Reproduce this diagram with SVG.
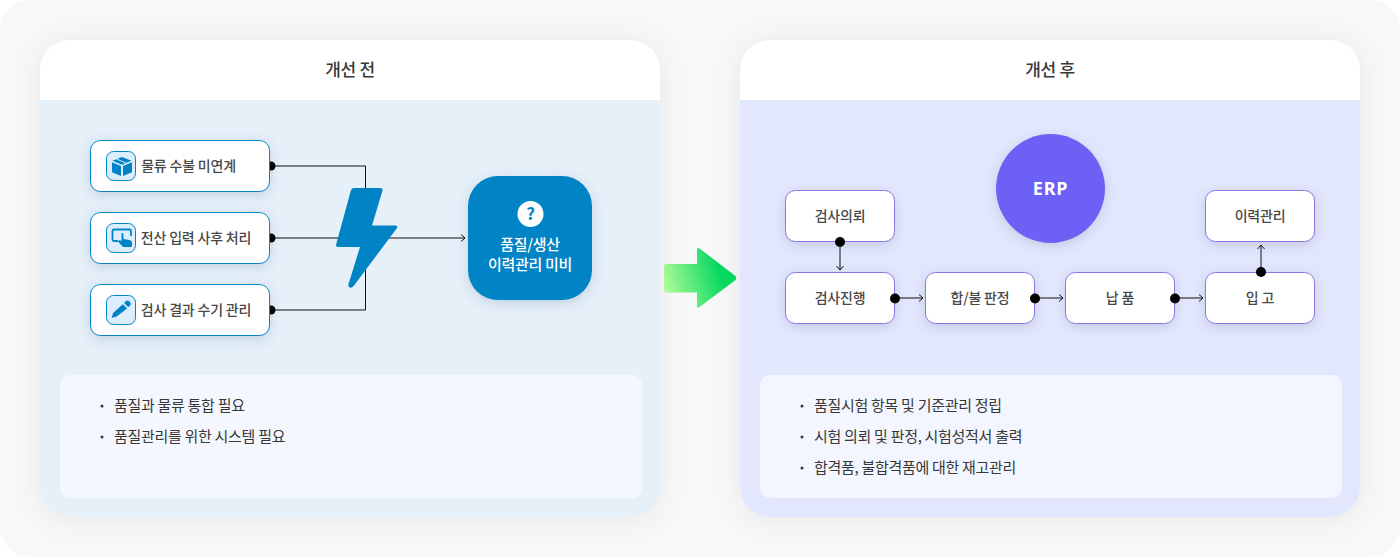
<svg xmlns="http://www.w3.org/2000/svg" width="1400" height="557" viewBox="0 0 1400 557">
<style>
text{font-family:"Noto Sans CJK KR","Noto Sans",sans-serif;fill:#383838;letter-spacing:-.3px}
.t{font-size:17px;font-weight:500;text-anchor:middle}
.n{font-size:14px;font-weight:500;text-anchor:middle;fill:#484848;letter-spacing:-.2px}
.l{font-size:15px;font-weight:400;fill:#383838}
.w{font-size:15px;font-weight:500;text-anchor:middle;fill:#fff}
.a{fill:#fff;stroke:#0084c6;stroke-width:1;filter:url(#s)}
.b{fill:#fff;stroke:#8a76e6;stroke-width:1;filter:url(#s)}
.ib{fill:#dcedfd;stroke:#0084c6;stroke-width:1}
.ic{fill:#0084c6}
.c{fill:none;stroke:#111;stroke-width:1}
.k{fill:none;stroke:#111;stroke-width:1}
</style>
<defs>
<filter id="s" x="-30%" y="-40%" width="160%" height="190%"><feDropShadow dx="0" dy="3" stdDeviation="6" flood-color="#30507a" flood-opacity=".2"/></filter>
<filter id="p" x="-10%" y="-10%" width="120%" height="120%"><feDropShadow dx="0" dy="2" stdDeviation="14" flood-color="#000" flood-opacity=".07"/></filter>
<linearGradient id="g" x1="0" y1="0.65" x2="1" y2="0.4"><stop offset="0" stop-color="#aefc98"/><stop offset=".8" stop-color="#05d75f"/></linearGradient>
<clipPath id="c1"><rect x="40" y="40" width="620" height="477" rx="30"/></clipPath>
<clipPath id="c2"><rect x="740" y="40" width="620" height="477" rx="30"/></clipPath>
</defs>
<rect width="1400" height="557" fill="#fff"/>
<rect width="1400" height="557" rx="30" fill="#f8f8f8"/>
<g id="panel-before">
<rect x="40" y="40" width="620" height="477" rx="30" fill="#e6f0f9" filter="url(#p)"/>
<g clip-path="url(#c1)"><rect x="40" y="40" width="620" height="60" fill="#fff"/></g>
<text class="t" x="350" y="75.500">개선 전</text>
<rect x="60" y="375" width="582" height="123" rx="10" fill="#f4f8fe"/>
<circle cx="102" cy="406" r="1.500" fill="#333"/><text class="l" x="114" y="410.500">품질과 물류 통합 필요</text>
<circle cx="102" cy="437" r="1.500" fill="#333"/><text class="l" x="114" y="441.500">품질관리를 위한 시스템 필요</text>
</g>
<g id="panel-after">
<rect x="740" y="40" width="620" height="477" rx="30" fill="#e3e7fd" filter="url(#p)"/>
<g clip-path="url(#c2)"><rect x="740" y="40" width="620" height="60" fill="#fff"/></g>
<text class="t" x="1050" y="75.500">개선 후</text>
<rect x="760" y="375" width="582" height="123" rx="10" fill="#f3f6fe"/>
<circle cx="802" cy="406" r="1.500" fill="#333"/><text class="l" x="814" y="410.500">품질시험 항목 및 기준관리 정립</text>
<circle cx="802" cy="437" r="1.500" fill="#333"/><text class="l" x="814" y="441.500">시험 의뢰 및 판정, 시험성적서 출력</text>
<circle cx="802" cy="468" r="1.500" fill="#333"/><text class="l" x="814" y="472.500">합격품, 불합격품에 대한 재고관리</text>
</g>
<g id="connectors">
<path class="c" d="M271 166H365.500V238M271 238H465M271 310H365.500V238"/>
<path class="k" d="M461 234.500l4 3.500l-4 3.500"/>
<circle cx="271" cy="166" r="4.500" fill="#000"/><circle cx="271" cy="238" r="4.500" fill="#000"/><circle cx="271" cy="310" r="4.500" fill="#000"/>
<path class="c" d="M840 242V270M894 298H923M1034 298H1063M1174 298H1203M1261 272V245"/>
<path class="k" d="M836.500 266l3.500 4l3.500-4M919 294.500l4 3.500l-4 3.500M1059 294.500l4 3.500l-4 3.500M1199 294.500l4 3.500l-4 3.500M1257.500 249l3.500-4l3.500 4"/>
</g>
<g id="node-logistics"><rect class="a" x="90.500" y="140.500" width="179" height="51" rx="10"/>
<rect class="ib" x="106.500" y="151.500" width="29" height="29" rx="7"/>
<path class="ic" d="M122 157l9.500 3.800l-9.500 4l-9.500-4zM112 162.300l9 3.800v10l-9-3.800zM132 162.300l-9 3.800v10l9-3.800z"/>
<path d="M116.500 159l9.500 4" stroke="#dcedfd" stroke-width="1" fill="none"/>
<text class="n" x="188.500" y="171">물류 수불 미연계</text></g>
<g id="node-manual"><rect class="a" x="90.500" y="212.500" width="179" height="51" rx="10"/>
<rect class="ib" x="106.500" y="223.500" width="29" height="29" rx="7"/>
<path d="M118 241h-4q-1.500 0-1.500-1.500v-8.500q0-1.500 1.500-1.500h15.500q1.500 0 1.500 1.500v5" fill="none" stroke="#0084c6" stroke-width="1.800"/>
<path class="ic" d="M122 233q1.500 0 1.500 1.500v4.500l6 1q2.500 .5 2.500 2.500v3q0 1.500-1.500 1.500h-7.500l-5-5.500l1.500-1.500l2 1v-6.500q0-1.500 .5-1.500z"/>
<text class="n" x="196" y="243">전산 입력 사후 처리</text></g>
<g id="node-inspection"><rect class="a" x="90.500" y="284.500" width="179" height="51" rx="10"/>
<rect class="ib" x="106.500" y="295.500" width="29" height="29" rx="7"/>
<path class="ic" d="M126 301q1.500-1.200 3 0l1.300 1.300q1.200 1.500 0 3l-2 2l-4.300-4.300zM122.800 304.200l4.300 4.300l-10.500 8l-5 1.500l1.500-5z"/>
<text class="n" x="196" y="315">검사 결과 수기 관리</text></g>
<g id="bolt"><path d="M354 188H380.500Q383 188 382.500 190.500L372 225.500H395Q398 225.500 397 228L354 285.500Q351 289 349 287Q348 286 348.500 284L360 247H338Q335.500 247 336 245L351 190Q352 188 354 188Z" fill="#0084c6"/></g>
<g id="node-missing"><rect x="468" y="176" width="124" height="124" rx="30" fill="#0084c6" filter="url(#s)"/>
<circle cx="530.500" cy="214" r="13" fill="#fff"/>
<text x="530.500" y="220" style="font-size:17px;font-weight:700;fill:#0084c6;text-anchor:middle">?</text>
<text class="w" x="530" y="250">품질/생산</text><text class="w" x="530" y="270">이력관리 미비</text></g>
<g id="arrow"><path d="M664 266.500Q664 264 666 264H697V250Q697 247 699.500 248.500L735.500 276Q737 278 735.500 280L699.500 307Q697 308.500 697 306V292.500H666Q664 292.500 664 290Z" fill="url(#g)"/></g>
<g id="node-erp"><circle cx="1050.500" cy="188.500" r="54.500" fill="#6c60f5" filter="url(#s)"/>
<text x="1050.500" y="194.500" style="font-size:18px;font-weight:700;fill:#fff;text-anchor:middle;letter-spacing:.8px;font-family:'Noto Sans',sans-serif">ERP</text></g>
<g id="node-request"><rect class="b" x="785.500" y="190.500" width="109" height="51" rx="10"/><text class="n" x="840" y="221">검사의뢰</text></g>
<g id="node-progress"><rect class="b" x="785.500" y="272.500" width="109" height="51" rx="10"/><text class="n" x="840" y="303">검사진행</text></g>
<g id="node-judge"><rect class="b" x="925.500" y="272.500" width="109" height="51" rx="10"/><text class="n" x="980" y="303">합/불 판정</text></g>
<g id="node-delivery"><rect class="b" x="1065.500" y="272.500" width="109" height="51" rx="10"/><text class="n" x="1120" y="303">납 품</text></g>
<g id="node-receiving"><rect class="b" x="1205.500" y="272.500" width="109" height="51" rx="10"/><text class="n" x="1260" y="303">입 고</text></g>
<g id="node-history"><rect class="b" x="1205.500" y="190.500" width="109" height="51" rx="10"/><text class="n" x="1260" y="221">이력관리</text></g>
<g id="connector-dots"><circle cx="840" cy="242" r="5" fill="#000"/><circle cx="895" cy="298.500" r="5" fill="#000"/><circle cx="1035" cy="298.500" r="5" fill="#000"/><circle cx="1175" cy="298.500" r="5" fill="#000"/><circle cx="1261" cy="272" r="5" fill="#000"/></g>
</svg>
